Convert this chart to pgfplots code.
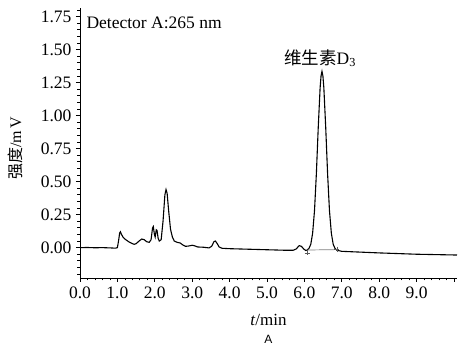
\documentclass[border=0pt]{standalone}
\usepackage{fontspec}
\setmainfont{Liberation Serif}
\newfontfamily\cjk{Noto Sans CJK SC}
\newfontfamily\arial{Liberation Sans}
\usepackage{pgfplots}
\pgfplotsset{compat=1.18}
\begin{document}
\begin{tikzpicture}
\begin{axis}[
  at={(0,0)}, anchor=south west,
  scale only axis, width=377pt, height=270pt,
  xmin=0, xmax=10.08, ymin=-0.23, ymax=1.815,
  axis lines*=left,
  axis line style={line width=0.9pt},
  clip=false,
  tick align=outside,
  major tick length=4pt, minor tick length=2.5pt,
  every tick/.style={black, line width=0.7pt},
  xtick={0,1,2,3,4,5,6,7,8,9,10},
  xticklabels={0.0,1.0,2.0,3.0,4.0,5.0,6.0,7.0,8.0,9.0,{}},
  minor xtick={0.2,0.4,...,10.0},
  ytick={0,0.25,0.5,0.75,1,1.25,1.5,1.75},
  yticklabels={0.00,0.25,0.50,0.75,1.00,1.25,1.50,1.75},
  minor ytick={-0.2,-0.15,...,1.8},
  /pgf/number format/assume math mode=true,
  ticklabel style={font=\fontsize{17.5}{19}\selectfont},
  xticklabel style={yshift=-1pt},
  yticklabel style={xshift=-1pt},
  xlabel={\textit{t}/min},
  xlabel style={at={(rel axis cs:0.5,0)}, anchor=center, yshift=-42pt, font=\fontsize{17}{19}\selectfont},
  ylabel={{\cjk 强度}/m\,V},
  ylabel style={at={(rel axis cs:0,0.48)}, anchor=center, rotate=0, yshift=65pt, font=\fontsize{16}{18}\selectfont},
]
\addplot[black, line width=1.1pt] coordinates {
(0.00,0.000) (0.2,0.001) (0.4,-0.001) (0.6,0.000) (0.8,-0.002) (0.95,-0.004)
(1.00,0.000) (1.03,0.05) (1.06,0.11) (1.08,0.12) (1.11,0.10) (1.15,0.08)
(1.2,0.065) (1.3,0.045) (1.4,0.03) (1.45,0.025) (1.5,0.03) (1.58,0.05)
(1.65,0.065) (1.72,0.06) (1.78,0.045) (1.85,0.04) (1.90,0.06) (1.94,0.15)
(1.96,0.16) (1.99,0.10) (2.01,0.08) (2.04,0.135) (2.06,0.13) (2.09,0.07)
(2.12,0.05) (2.17,0.06) (2.22,0.2) (2.27,0.40) (2.30,0.44) (2.33,0.41)
(2.37,0.28) (2.42,0.14) (2.47,0.08) (2.52,0.05) (2.6,0.04) (2.68,0.035)
(2.75,0.02) (2.82,0.01) (2.9,0.012) (3.0,0.018) (3.05,0.015) (3.15,0.005)
(3.3,0.003) (3.45,-0.002) (3.52,0.01) (3.58,0.045) (3.62,0.05) (3.67,0.03)
(3.72,0.005) (3.8,-0.005) (4.0,-0.008) (4.5,-0.012) (5.0,-0.016) (5.5,-0.02)
(5.7,-0.02) (5.78,-0.01) (5.86,0.015) (5.92,0.01) (5.98,-0.01) (6.04,-0.022)
(6.07,-0.018) (6.12,-0.007) (6.17,0.025) (6.22,0.11) (6.27,0.28) (6.32,0.56)
(6.37,0.91) (6.42,1.21) (6.445,1.30) (6.47,1.335) (6.495,1.30) (6.52,1.21)
(6.57,0.91) (6.62,0.56) (6.67,0.28) (6.72,0.11) (6.77,0.025) (6.82,-0.007)
(6.87,-0.02) (7.0,-0.028) (8.0,-0.04) (9.0,-0.05) (10.08,-0.056)
};
\addplot[gray, line width=0.7pt] coordinates {(6.08,-0.018) (6.87,-0.015)};
\addplot[only marks, mark=+, mark size=2.5pt, gray!70!black, line width=0.6pt] coordinates {(6.07,-0.04) (6.87,-0.012)};
\node[anchor=north west, font=\fontsize{17.5}{19}\selectfont] at (rel axis cs:0,1) [xshift=3pt, yshift=-5pt] {Detector A:265 nm};
\node[anchor=south, font=\fontsize{17.5}{19}\selectfont, inner sep=1pt] at (axis cs:6.42,1.36) {{\cjk 维生素}D\textsubscript{3}};
\node[anchor=center, font=\arial\fontsize{12}{14}\selectfont] at (rel axis cs:0.5,0) [yshift=-61pt] {A};
\end{axis}
\pgfresetboundingbox
\path[use as bounding box] (-80pt,-67pt) rectangle (378pt,278pt);
\end{tikzpicture}
\end{document}
